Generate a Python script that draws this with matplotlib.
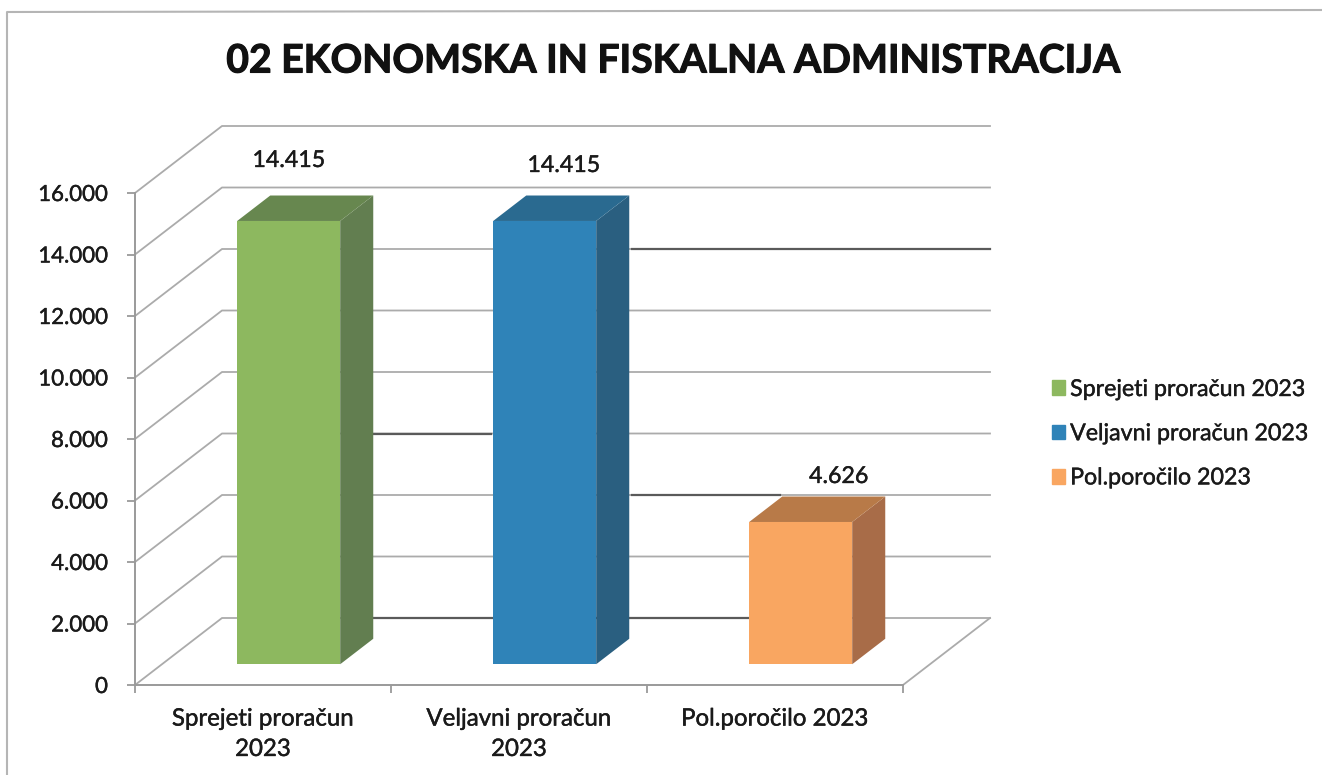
import matplotlib
matplotlib.use("Agg")
from matplotlib import pyplot as plt
from matplotlib import patheffects as pe
from matplotlib.lines import Line2D
from matplotlib.patches import Patch, Polygon

title = "02 EKONOMSKA IN FISKALNA ADMINISTRACIJA"
categories = ["Sprejeti proračun\n2023", "Veljavni proračun\n2023", "Pol.poročilo 2023"]
series_names = ["Sprejeti proračun 2023", "Veljavni proračun 2023", "Pol.poročilo 2023"]
values = [14415, 14415, 4626]
value_labels = ["14.415", "14.415", "4.626"]
y_ticks = [0, 2000, 4000, 6000, 8000, 10000, 12000, 14000, 16000]
y_tick_labels = ["0", "2.000", "4.000", "6.000", "8.000", "10.000", "12.000", "14.000", "16.000"]

front_colors = ["#8DB85F", "#2F83B8", "#F9A661"]
top_colors = ["#67874F", "#2A6A90", "#B87A48"]
side_colors = ["#627E50", "#2A5F80", "#A86C48"]
label_shift = [(0, 50), (19, 45), (38, 35)]

plt.rcParams["font.family"] = ["Lato", "DejaVu Sans"]
W, H = 1322, 775
fig = plt.figure(figsize=(W / 100, H / 100), dpi=100, facecolor="white")
ax = fig.add_axes([135 / W, (H - 685) / H, 768 / W, 492 / H])
ax.set_xlim(0, 3)
ax.set_ylim(0, 16000)
ax.patch.set_visible(False)

# the fake 3d depth, in data units per full depth of the chart
depth_x = 87 / 256
depth_y = 67 / (492 / 16000)
heavy = [pe.withStroke(linewidth=0.3, foreground="#1a1a1a")]


def project(x, v, d):
    return x + d * depth_x, v + d * depth_y


GRID = "#ababab"
for v in y_ticks:
    x0, y0 = project(0, v, 0)
    x1, y1 = project(0, v, 1)
    x2, y2 = project(3, v, 1)
    ax.plot([x0, x1, x2], [y0, y1, y2], color=GRID, lw=1.3, clip_on=False, zorder=1)
# floor edge on the right
x1, y1 = project(3, 0, 0)
x2, y2 = project(3, 0, 1)
ax.plot([x1, x2], [y1, y2], color=GRID, lw=1.3, clip_on=False, zorder=1)

# scan darkened some grid lines between the bars
for level, start, end in [(0, 0.58, 2.07), (4000, 1.6, 2.18), (6000, 0.58, 1.05), (12000, 1.6, 3.0)]:
    xa, ya = project(start, level, 1)
    xb, yb = project(end, level, 1)
    ax.plot([xa, xb], [ya, yb], color="#5a5a5a", lw=1.6, clip_on=False, zorder=1.5)

bar_width = 103 / 256
d_front, d_back = 0.31, 0.69
for i, val in enumerate(values):
    left = i + 0.5 - bar_width / 2 - 0.005
    right = left + bar_width
    fl, fb = project(left, 0, d_front)
    fr, _ = project(right, 0, d_front)
    _, ft = project(left, val, d_front)
    bl, _ = project(left, 0, d_back)
    br, bb = project(right, 0, d_back)
    _, bt = project(left, val, d_back)
    ax.add_patch(Polygon([(fr, fb), (br, bb), (br, bt), (fr, ft)], color=side_colors[i], lw=0, clip_on=False, zorder=3))
    ax.add_patch(Polygon([(fl, ft), (fr, ft), (br, bt), (bl, bt)], color=top_colors[i], lw=0, clip_on=False, zorder=3))
    ax.add_patch(Polygon([(fl, fb), (fr, fb), (fr, ft), (fl, ft)], color=front_colors[i], lw=0, clip_on=False, zorder=4))
    ax.annotate(value_labels[i], ((fl + fr) / 2, ft), xytext=label_shift[i], textcoords="offset pixels",
                ha="center", va="bottom", fontsize=16.7, color="#1a1a1a", annotation_clip=False,
                path_effects=heavy)

for s in ["top", "right"]:
    ax.spines[s].set_visible(False)
for s in ["left", "bottom"]:
    ax.spines[s].set_color("#9a9a9a")
    ax.spines[s].set_linewidth(1.4)
ax.set_yticks(y_ticks)
ax.set_yticklabels(y_tick_labels, fontsize=16, color="#1a1a1a", path_effects=heavy)
ax.tick_params(axis="y", length=6, width=1.3, color="#9a9a9a", pad=13.5)
ax.set_xticks([0, 1, 2, 3])
ax.set_xticklabels([])
ax.set_xticks([0.5, 1.5, 2.5], minor=True)
ax.set_xticklabels(categories, minor=True, fontsize=17.3, color="#1a1a1a", linespacing=1.55, path_effects=heavy)
ax.tick_params(axis="x", which="major", length=6, width=1.3, color="#9a9a9a")
ax.tick_params(axis="x", which="minor", length=0, pad=17)

fig.text(672 / W, 1 - 61 / H, title, ha="center", va="center", fontsize=28.2, fontweight="bold", color="#111111",
         path_effects=[pe.withStroke(linewidth=0.8, foreground="#111111")])

handles = [Patch(color=c) for c in front_colors]
leg = fig.legend(handles, series_names, loc="upper left", bbox_to_anchor=(1052 / W, 1 - 379 / H), frameon=False,
                 fontsize=16.7, handlelength=0.56, handleheight=0.6, handletextpad=0.22, labelspacing=1.0,
                 labelcolor="#1a1a1a", borderpad=0, borderaxespad=0)
for t in leg.get_texts():
    t.set_path_effects(heavy)

# outer frame of the scanned chart
fig.add_artist(Line2D([7 / W, 7 / W, 1], [0, 1 - 12 / H, 1 - 10 / H], color="#b5b5b5", lw=1.5))

fig.savefig("out.png", dpi=100)
